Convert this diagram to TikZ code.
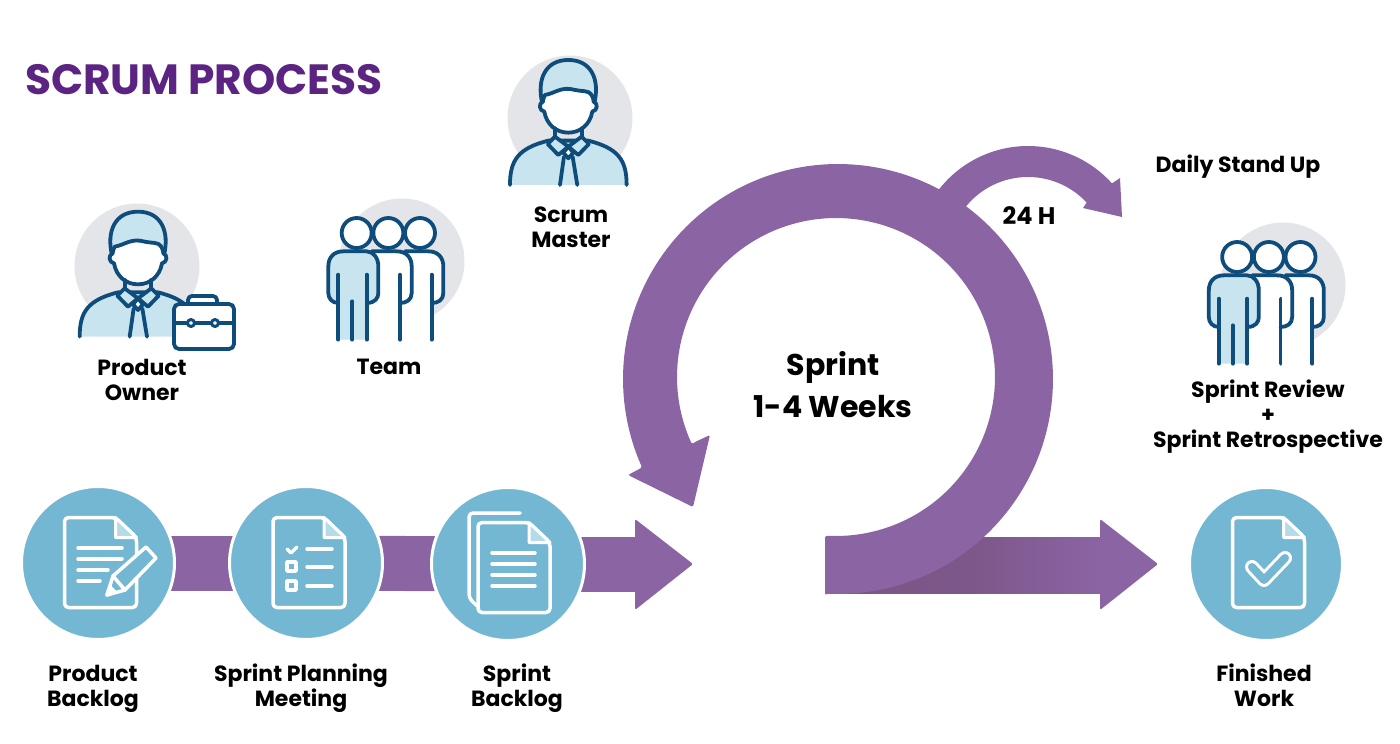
\documentclass[tikz,border=0pt]{standalone}
\usepackage{fontspec}
\setmainfont{Poppins}
\pgfdeclarelayer{bg}
\pgfsetlayers{bg,main}
\definecolor{ringp}{HTML}{8B64A3}
\definecolor{circb}{HTML}{74B7D3}
\definecolor{foldb}{HTML}{B5DAE8}
\definecolor{grayc}{HTML}{E4E5E8}
\definecolor{navy}{HTML}{0E4C7C}
\definecolor{lblue}{HTML}{C8E4EF}
\definecolor{titlep}{HTML}{5B2382}
\definecolor{shadp}{HTML}{7A5585}
\tikzset{
  lab/.style={font=\bfseries\fontsize{22}{25}\selectfont,align=center,text=black,inner sep=0pt},
  stepcirc/.style={circle,fill=circb,draw=white,line width=3pt,minimum size=153pt,inner sep=0pt},
  bar/.style={draw=ringp,line width=55pt},
  graycirc/.style={circle,fill=grayc,minimum size=125pt,inner sep=0pt},
  nv/.style={draw=navy,line width=3.8pt,line join=round,line cap=round},
  wl/.style={draw=white,line width=3.5pt,line join=round,line cap=round},
  personicon/.pic={
    \path[nv,fill=lblue] (-175,185) .. controls (-175,110) and (-150,75) .. (-60,52)
       -- (60,52) .. controls (150,75) and (175,110) .. (175,185);
    \path[nv,fill=lblue] (-78,-60) .. controls (-95,-130) and (-70,-190) .. (0,-190)
       .. controls (70,-190) and (95,-130) .. (78,-60) -- cycle;
    \path[nv,fill=white] (-70,-85) .. controls (-40,-90) and (-20,-112) .. (20,-100)
       .. controls (40,-95) and (62,-100) .. (70,-85)
       .. controls (74,-78) and (76,-70) .. (76,-65)
       .. controls (90,-60) and (88,-38) .. (72,-35)
       .. controls (65,5) and (35,28) .. (0,28)
       .. controls (-35,28) and (-65,5) .. (-72,-35)
       .. controls (-88,-38) and (-90,-60) .. (-76,-65)
       .. controls (-76,-70) and (-74,-78) .. (-70,-85) -- cycle;
    \path[nv] (-40,15) -- (-40,42); \path[nv] (40,15) -- (40,42);
    \path[nv,fill=lblue] (-40,40) -- (-62,62) -- (-30,95) -- (0,70) -- cycle;
    \path[nv,fill=lblue] (40,40) -- (62,62) -- (30,95) -- (0,70) -- cycle;
    \path[nv,fill=white] (0,70) -- (-15,88) -- (0,105) -- (15,88) -- cycle;
    \path[nv] (-13,100) -- (-25,185); \path[nv] (13,100) -- (27,185);
  },
  teamicon/.pic={
    \path[fill=white] (-40,-65) rectangle (275,202);
    \path[nv,fill=white] (195,-65) -- (265,-65) .. controls (295,-65) and (310,-45) .. (310,-20) -- (310,60)
       .. controls (310,80) and (295,90) .. (275,90);
    \path[nv] (275,5) -- (275,200);
    \path[nv,fill=white] (95,-65) -- (170,-65) .. controls (200,-65) and (215,-45) .. (215,-20) -- (215,60)
       .. controls (215,80) and (200,90) .. (180,90);
    \path[nv] (180,5) -- (180,200);
    \path[nv,fill=white] (145,-120) circle[radius=45];
    \path[nv,fill=white] (50,-120) circle[radius=45];
    \path[nv,fill=white] (240,-120) circle[radius=45];
    \path[fill=lblue] (-5,200) -- (-5,90) .. controls (-25,90) and (-35,75) .. (-35,60) -- (-35,-20)
       .. controls (-35,-45) and (-20,-65) .. (10,-65) -- (80,-65)
       .. controls (100,-65) and (115,-45) .. (115,-20) -- (115,60)
       .. controls (115,75) and (105,90) .. (80,90) -- (80,200) -- cycle;
    \path[nv] (-5,90) .. controls (-25,90) and (-35,75) .. (-35,60) -- (-35,-20)
       .. controls (-35,-45) and (-20,-65) .. (10,-65) -- (80,-65)
       .. controls (100,-65) and (115,-45) .. (115,-20) -- (115,60)
       .. controls (115,75) and (105,90) .. (80,90);
    \path[nv] (-5,5) -- (-5,200); \path[nv] (80,5) -- (80,200);
    \path[nv] (37,85) -- (37,200);
  },
  docbase/.pic={
    \path[wl,rounded corners=4pt] (-36,-45) -- (15,-45) -- (36,-25) -- (36,45) -- (-36,45) -- cycle;
    \path[wl,fill=foldb,line width=3pt] (15,-45) -- (15,-25) -- (36,-25) -- cycle;
  }
}
\begin{document}
\begin{tikzpicture}[x=1pt,y=-1pt]
\useasboundingbox (0,0) rectangle (1400,744);
% title
\node[inner sep=0pt,text=titlep,font=\bfseries\fontsize{42.3}{46}\selectfont] (title) at (204,80) {SCRUM PROCESS};
% exit arrow
\begin{pgfonlayer}{bg}
\shade[left color=shadp,right color=ringp,middle color=shadp!85!ringp] (840,537) rectangle (1102,593);
\end{pgfonlayer}
\fill[ringp,rounded corners=1.5pt] (1100,537) -- (1100,519) -- (1158,564) -- (1100,610) -- (1100,593) -- cycle;
% small arc
\fill[ringp] plot[domain=-144:-42,samples=60] ({1028+113*cos(\x)},{259+113*sin(\x)})
  -- (1120,178) -- (1122,217) -- (1083,208) -- (1087,202)
  -- plot[domain=-43:-143,samples=60] ({1028+80*cos(\x)},{257+80*sin(\x)}) -- cycle;
% ring
\fill[ringp,rounded corners=1.5pt] (825,595)
  -- plot[domain=93:-204.3,samples=160] ({838+215*cos(\x)},{379+215*sin(\x)})
  -- (628,475) -- (693,507) -- (710,435) -- (695,442)
  -- plot[domain=-205:93,samples=160] ({836+159*cos(\x)},{377+159*sin(\x)})
  -- (825,536) -- cycle;
% icons
\node[graycirc] (g1) at (137,266) {};
\node[graycirc] (g2) at (402,261) {};
\node[graycirc] (g3) at (570,118) {};
\node[graycirc] (g4) at (1283,285) {};
\pic[scale=1/3] (po) at (138,275) {personicon};
\pic[scale=1/3] (sm) at (568.3,123.3) {personicon};
\pic[scale=1/3] (tm) at (340,273) {teamicon};
\pic[scale=1/3] (rv) at (1220.5,297) {teamicon};
% briefcase
\path[nv,fill=white,rounded corners=4pt] (188,303) -- (188,296) -- (217,296) -- (217,303);
\path[nv,fill=white,rounded corners=5pt] (174,304) rectangle (234,349);
\path[nv] (174,323) -- (234,323);
\path[nv,fill=white,line width=3pt] (191,323) circle[radius=3.5];
\path[nv,fill=white,line width=3pt] (215,323) circle[radius=3.5];
% step circles
\node[stepcirc] (c1) at (98,563) {};
\node[stepcirc] (c2) at (306,563) {};
\node[stepcirc] (c3) at (508,564) {};
\node[stepcirc] (c4) at (1266,564) {};
\coordinate (a1) at (636,564);
\begin{pgfonlayer}{bg}
\draw[bar] (c1.center) -- (c2.center);
\draw[bar] (c2.center) -- (c3.center);
\draw[bar] (c3.center) -- (a1);
\end{pgfonlayer}
\fill[ringp,rounded corners=1.5pt] (635,537) -- (635,519) -- (693,564) -- (635,610) -- (635,592) -- cycle;
% doc 1
\pic at (100.5,562.5) {docbase};
\foreach \yy/\xe in {548/122,559/122,570/108,581/100} \path[wl] (78,\yy) -- (\xe,\yy);
\path[wl,fill=circb] (107,595) -- (113,576) -- (146,547) -- (156,558) -- (125,590) -- cycle;
\path[wl] (113,576) -- (125,590);
\path[wl,fill=white] (107,595) -- (110,587) -- (115,592) -- cycle;
% doc 2
\pic at (309,562.5) {docbase};
\path[wl] (287,549) -- (291,553) -- (297,547);
\foreach \yy in {549,567,586} \path[wl] (307,\yy) -- (332,\yy);
\path[wl] (287,562) rectangle (296,571);
\path[wl] (287,581) rectangle (296,590);
% doc 3
\path[wl,rounded corners=4pt] (520,513) -- (469,513) -- (469,598) -- (477,606);
\pic at (514,567.5) {docbase};
\foreach \yy in {553,564,575,586} \path[wl] (492,\yy) -- (535,\yy);
% doc 4
\pic at (1268.5,562.5) {docbase};
\path[draw=white,line width=14pt,line cap=round,line join=round] (1252,567) -- (1264,580) -- (1285,558);
\path[draw=circb,line width=8pt,line cap=round,line join=round] (1252,567) -- (1264,580) -- (1285,558);
% labels
\node[lab] (lsm) at (571,227.5) {Scrum\\Master};
\node[lab] (lpo) at (142,380) {Product\\Owner};
\node[lab] (lt) at (389,367) {Team};
\node[lab,font=\bfseries\fontsize{30}{42}\selectfont] (ls) at (833,385) {Sprint\\1-4 Weeks};
\node[lab,font=\bfseries\fontsize{24}{25}\selectfont] (l24) at (1029,216) {24 H};
\node[lab] (ld) at (1238,167) {Daily Stand Up};
\node[lab] (lr) at (1268,417) {Sprint Review\\+\\Sprint Retrospective};
\node[lab] (lpb) at (93,689) {Product\\Backlog};
\node[lab] (lsp) at (301,688) {Sprint Planning\\Meeting};
\node[lab] (lsb) at (517,688) {Sprint\\Backlog};
\node[lab] (lfw) at (1264,685) {Finished\\Work};
\end{tikzpicture}
\end{document}
